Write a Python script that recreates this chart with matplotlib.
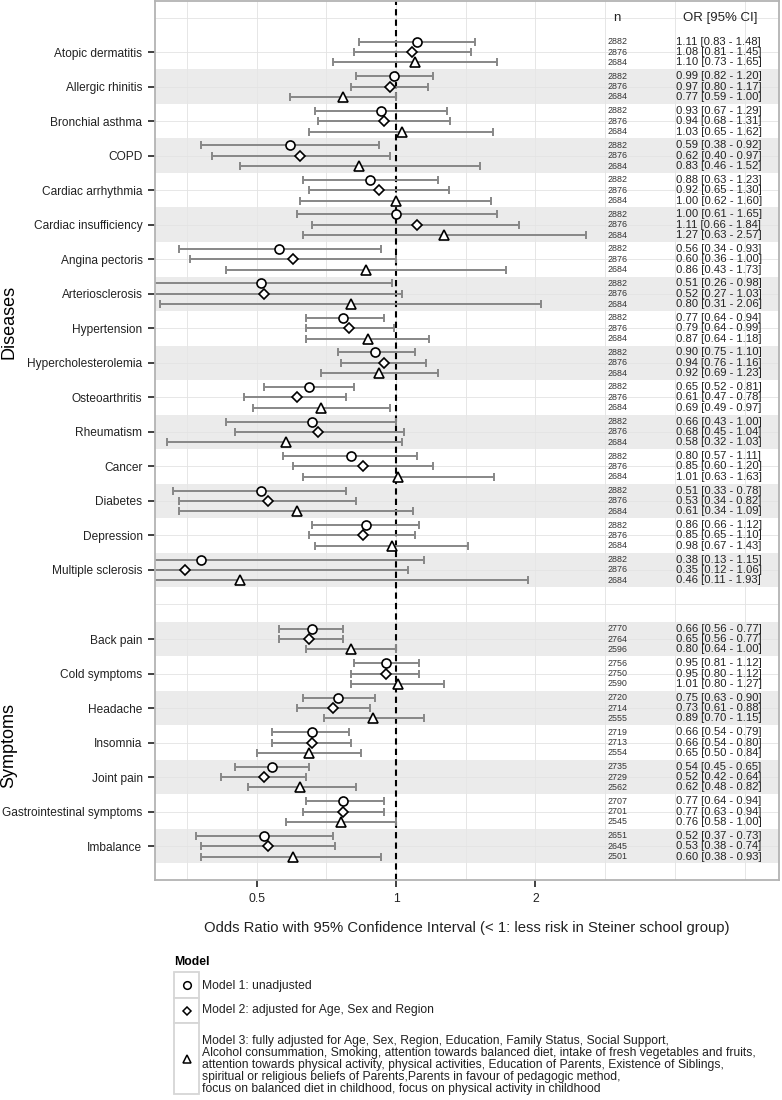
import numpy as np
import matplotlib.pyplot as plt
from matplotlib.patches import Rectangle

plt.rcParams['font.family'] = ['Liberation Sans', 'DejaVu Sans']

diseases = ['Atopic dermatitis', 'Allergic rhinitis', 'Bronchial asthma', 'COPD',
            'Cardiac arrhythmia', 'Cardiac insufficiency', 'Angina pectoris',
            'Arteriosclerosis', 'Hypertension', 'Hypercholesterolemia', 'Osteoarthritis',
            'Rheumatism', 'Cancer', 'Diabetes', 'Depression', 'Multiple sclerosis']
symptoms = ['Back pain', 'Cold symptoms', 'Headache', 'Insomnia', 'Joint pain',
            'Gastrointestinal symptoms', 'Imbalance']

# model 1: unadjusted
or_m1 = [1.11, 0.99, 0.93, 0.59, 0.88, 1.00, 0.56, 0.51, 0.77, 0.90, 0.65, 0.66, 0.80, 0.51, 0.86, 0.38,
         0.66, 0.95, 0.75, 0.66, 0.54, 0.77, 0.52]
lo_m1 = [0.83, 0.82, 0.67, 0.38, 0.63, 0.61, 0.34, 0.26, 0.64, 0.75, 0.52, 0.43, 0.57, 0.33, 0.66, 0.13,
         0.56, 0.81, 0.63, 0.54, 0.45, 0.64, 0.37]
hi_m1 = [1.48, 1.20, 1.29, 0.92, 1.23, 1.65, 0.93, 0.98, 0.94, 1.10, 0.81, 1.00, 1.11, 0.78, 1.12, 1.15,
         0.77, 1.12, 0.90, 0.79, 0.65, 0.94, 0.73]
n_m1 = [2882] * 16 + [2770, 2756, 2720, 2719, 2735, 2707, 2651]

# model 2: age, sex, region
or_m2 = [1.08, 0.97, 0.94, 0.62, 0.92, 1.11, 0.60, 0.52, 0.79, 0.94, 0.61, 0.68, 0.85, 0.53, 0.85, 0.35,
         0.65, 0.95, 0.73, 0.66, 0.52, 0.77, 0.53]
lo_m2 = [0.81, 0.80, 0.68, 0.40, 0.65, 0.66, 0.36, 0.27, 0.64, 0.76, 0.47, 0.45, 0.60, 0.34, 0.65, 0.12,
         0.56, 0.80, 0.61, 0.54, 0.42, 0.63, 0.38]
hi_m2 = [1.45, 1.17, 1.31, 0.97, 1.30, 1.84, 1.00, 1.03, 0.99, 1.16, 0.78, 1.04, 1.20, 0.82, 1.10, 1.06,
         0.77, 1.12, 0.88, 0.80, 0.64, 0.94, 0.74]
n_m2 = [2876] * 16 + [2764, 2750, 2714, 2713, 2729, 2701, 2645]

# model 3: fully adjusted
or_m3 = [1.10, 0.77, 1.03, 0.83, 1.00, 1.27, 0.86, 0.80, 0.87, 0.92, 0.69, 0.58, 1.01, 0.61, 0.98, 0.46,
         0.80, 1.01, 0.89, 0.65, 0.62, 0.76, 0.60]
lo_m3 = [0.73, 0.59, 0.65, 0.46, 0.62, 0.63, 0.43, 0.31, 0.64, 0.69, 0.49, 0.32, 0.63, 0.34, 0.67, 0.11,
         0.64, 0.80, 0.70, 0.50, 0.48, 0.58, 0.38]
hi_m3 = [1.65, 1.00, 1.62, 1.52, 1.60, 2.57, 1.73, 2.06, 1.18, 1.23, 0.97, 1.03, 1.63, 1.09, 1.43, 1.93,
         1.00, 1.27, 1.15, 0.84, 0.82, 1.00, 0.93]
n_m3 = [2684] * 16 + [2596, 2590, 2555, 2554, 2562, 2545, 2501]

labels = diseases + symptoms
# one empty slot between the two groups
ypos = np.array(list(range(len(diseases))) + list(range(len(diseases) + 1, len(labels) + 1)))

W, H = 782, 1100
fig = plt.figure(figsize=(W / 100, H / 100), dpi=100)
ax = fig.add_axes([155 / W, 1 - 880 / H, (779 - 155) / W, 879 / H])

ax.set_xscale('log', base=2)
ax.set_xlim(0.3018, 6.71)
ax.set_ylim(23.98, -1.48)

# shaded bands on every other item
for y in ypos:
    if y % 2 == 1:
        ax.axhspan(y - 0.5, y + 0.5, color='#ebebeb', lw=0, zorder=0)

for g in [2 ** (k / 2) for k in range(-3, 6)]:
    ax.axvline(g, color='#e6e6e6', lw=0.7, zorder=0.5)
for y in range(-1, int(ypos[-1]) + 1):
    ax.axhline(y, color='#e3e3e3', lw=0.6, zorder=0.5)

ax.axvline(1, color='black', lw=1.5, ls=(0, (3, 2)), zorder=1)

models = [(or_m1, lo_m1, hi_m1, n_m1, 'o', 6.5, -0.3),
          (or_m2, lo_m2, hi_m2, n_m2, 'D', 4.8, 0.0),
          (or_m3, lo_m3, hi_m3, n_m3, '^', 6.8, 0.3)]

for o, lo, hi, n, mk, ms, off in models:
    o = np.array(o)
    y = ypos + off
    err = [o - np.array(lo), np.array(hi) - o]
    ax.errorbar(o, y, xerr=err, fmt='none', ecolor='#878787', elinewidth=1.4,
                capsize=3.2, capthick=1.4, zorder=2)
    ax.plot(o, y, mk, ls='none', mfc='white', mec='black', ms=ms, mew=1.2, zorder=3)
    for k in range(len(o)):
        ax.text(3.0, y[k], str(n[k]), ha='center', va='center', fontsize=6.4, color='#333333')
        ax.text(4.03, y[k], '%.2f [%.2f - %.2f]' % (o[k], lo[k], hi[k]),
                ha='left', va='center', fontsize=8.1, color='#222222')

ax.text(3.0, -1, 'n', ha='center', va='center', fontsize=9.5, color='#222222')
ax.text(5.0, -1, 'OR [95% CI]', ha='center', va='center', fontsize=9.5, color='#222222')

ax.set_xticks([0.5, 1, 2])
ax.set_xticklabels(['0.5', '1', '2'])
ax.xaxis.set_minor_locator(plt.NullLocator())
ax.set_yticks(ypos)
ax.set_yticklabels(labels)
ax.tick_params(axis='both', length=5, width=1.3, color='#333333', labelcolor='#222222', pad=4)
ax.tick_params(axis='y', labelsize=8.55)
ax.tick_params(axis='x', labelsize=8.8)
for s in ax.spines.values():
    s.set_color('#b3b3b3')
    s.set_linewidth(1.3)

fig.text(467 / W, 1 - 928 / H,
         'Odds Ratio with 95% Confidence Interval (< 1: less risk in Steiner school group)',
         ha='center', va='center', fontsize=10.7, color='#222222')
fig.text(9 / W, 1 - 322 / H, 'Diseases', rotation=90, ha='center', va='center', fontsize=13)
fig.text(9 / W, 1 - 746 / H, 'Symptoms', rotation=90, ha='center', va='center', fontsize=13)

# legend drawn by hand in pixel coordinates
lg = fig.add_axes([0, 0, 1, 1])
lg.set_xlim(0, W)
lg.set_ylim(H, 0)
lg.axis('off')
lg.text(174, 962, 'Model', fontweight='bold', fontsize=8.8, ha='left', va='center')
model3_txt = ('Model 3: fully adjusted for Age, Sex, Region, Education, Family Status, Social Support,\n'
              'Alcohol consummation, Smoking, attention towards balanced diet, intake of fresh vegetables and fruits,\n'
              'attention towards physical activity, physical activities, Education of Parents, Existence of Siblings,\n'
              'spiritual or religious beliefs of Parents,Parents in favour of pedagogic method,\n'
              'focus on balanced diet in childhood, focus on physical activity in childhood')
keys = [(972, 26, 'o', 5.5, 'Model 1: unadjusted', 986),
        (998, 25, 'D', 4.0, 'Model 2: adjusted for Age, Sex and Region', 1010),
        (1023, 71, '^', 5.8, model3_txt, 1065)]
for top, h, mk, ms, txt, ty in keys:
    lg.add_patch(Rectangle((174, top), 25, h, fc='white', ec='#d6d6d6', lw=1.3))
    lg.plot([186.5], [top + h / 2], mk, mfc='white', mec='black', ms=ms, mew=1.1)
    lg.text(202, ty, txt, ha='left', va='center', fontsize=8.75,
            linespacing=1.02, color='#222222')

plt.savefig('out.png', dpi=100)
